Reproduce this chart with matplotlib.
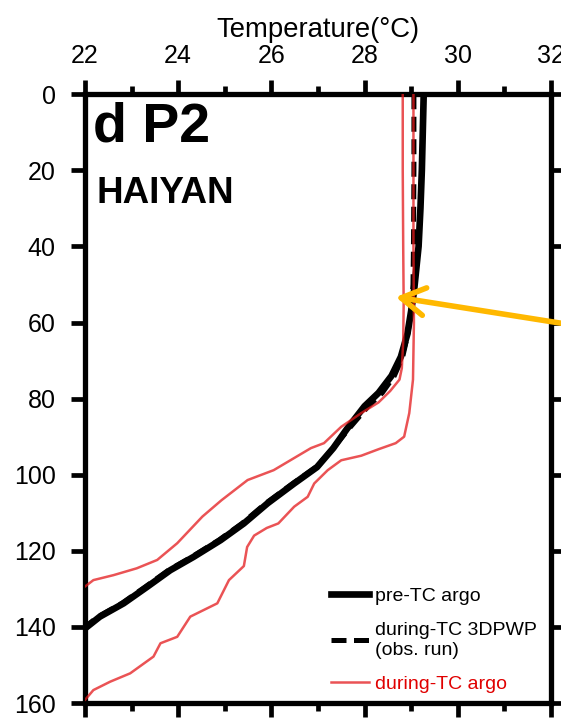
import matplotlib
matplotlib.use("Agg")
import matplotlib.pyplot as plt

plt.rcParams["font.family"] = ["Liberation Sans", "DejaVu Sans"]

# Pre-TC Argo profile (depth in m, temperature in degC)
pre_depth = [0, 10, 20, 30, 40, 46, 52, 57, 63, 69, 74, 78.5, 82, 88, 93, 98,
             102.3, 107.5, 112.8, 117.2, 121.6, 125.1, 129.5, 133.8, 137.3, 140.4, 145]
pre_temp = [29.27, 29.25, 29.23, 29.20, 29.16, 29.11, 29.06, 29.00, 28.92, 28.78, 28.58, 28.30,
            28.00, 27.62, 27.33, 26.98, 26.49, 25.92, 25.41, 24.91, 24.33, 23.83, 23.33,
            22.83, 22.32, 22.00, 21.40]

# During-TC 3DPWP simulation (observation-driven run)
pwp_depth = [0, 20, 40, 50, 57, 63, 69, 74, 78.5, 82, 88, 93, 98, 102.3, 107.5,
             112.8, 117.2, 121.6, 125.1, 129.5, 133.8, 137.3, 140.4, 145]
pwp_temp = [29.06, 29.06, 29.05, 29.04, 29.00, 28.93, 28.82, 28.64, 28.38, 28.08, 27.66,
            27.33, 26.96, 26.46, 25.88, 25.37, 24.87, 24.29, 23.79, 23.29, 22.79, 22.28,
            21.96, 21.30]

# During-TC Argo profiles
dur1_depth = [0, 20, 40, 55, 65, 72, 75, 78, 81, 83.8, 87.4, 91.7, 93, 98.8, 101.4,
              106.7, 111, 118, 122.4, 124.6, 126.4, 127.7, 129.4, 131]
dur1_temp = [28.82, 28.82, 28.83, 28.84, 28.83, 28.80, 28.75, 28.55, 28.30, 27.93, 27.50,
             27.13, 26.85, 26.05, 25.49, 24.93, 24.52, 23.98, 23.55, 23.11, 22.61, 22.18,
             22.00, 21.60]

dur2_depth = [0, 20, 40, 60, 75, 83.8, 90, 91.7, 93.3, 95, 96.2, 98.8, 102.3, 105.8,
              108.4, 112.8, 114, 116, 119, 124, 127.7, 133.8, 137.3, 142.6, 144.3, 147.8,
              152.2, 154.4, 156.6, 159.2, 161]
dur2_temp = [29.05, 29.05, 29.05, 29.06, 29.04, 28.96, 28.85, 28.67, 28.30, 27.93, 27.50,
             27.21, 26.92, 26.78, 26.49, 26.15, 25.90, 25.63, 25.48, 25.41, 25.09, 24.84,
             24.26, 23.98, 23.62, 23.47, 22.97, 22.54, 22.18, 22.00, 21.70]

x_ticks = [22, 24, 26, 28, 30, 32]
y_ticks = [0, 20, 40, 60, 80, 100, 120, 140, 160]

red = "#e41a1c"

fig = plt.figure(figsize=(5.61, 7.2), dpi=100)
ax = fig.add_axes([0.1515, 0.0236, 0.8305, 0.8455])

l_dash, = ax.plot(pwp_temp, pwp_depth, color="black", lw=3.6, dashes=(3.0, 1.5),
                  label="during-TC 3DPWP\n(obs. run)", zorder=3)
l_pre, = ax.plot(pre_temp, pre_depth, color="black", lw=4.8, label="pre-TC argo", zorder=2)
l_red, = ax.plot(dur1_temp, dur1_depth, color=red, lw=1.8, alpha=0.75,
                 label="during-TC argo", zorder=4)
ax.plot(dur2_temp, dur2_depth, color=red, lw=1.8, alpha=0.75, zorder=4)

ax.set_xlim(22, 32)
ax.set_ylim(160, 0)
ax.set_xticks(x_ticks)
ax.set_xticks(range(23, 32, 2), minor=True)
ax.set_yticks(y_ticks)

for s in ax.spines.values():
    s.set_linewidth(3.8)

ax.tick_params(axis="x", which="both", direction="out", top=True, bottom=True,
               labeltop=True, labelbottom=False, labelsize=18, width=3.4)
ax.tick_params(axis="x", which="major", length=10, pad=9)
ax.tick_params(axis="x", which="minor", length=5.5)
ax.tick_params(axis="y", which="major", direction="out", left=True, right=True,
               labelleft=True, labelright=False, labelsize=18, width=3.4,
               length=10, pad=11)

ax.set_xlabel("Temperature(°C)", fontsize=19.8, labelpad=5)
ax.xaxis.set_label_position("top")

ax.text(0.018, 0.988, "d P2", transform=ax.transAxes, fontsize=40, fontweight="bold",
        va="top", ha="left")
ax.text(0.025, 0.866, "HAIYAN", transform=ax.transAxes, fontsize=26.5, fontweight="bold",
        va="top", ha="left")

leg = ax.legend(handles=[l_pre, l_dash, l_red], loc="lower right",
                bbox_to_anchor=(0.99, 0.0), frameon=False, fontsize=14.0,
                handlelength=1.95, handletextpad=0.3, labelspacing=0.88,
                borderaxespad=0.1)
for txt, c in zip(leg.get_texts(), ["black", "black", "#e00000"]):
    txt.set_color(c)

# Pointer to the mixed-layer base
ax.annotate("", xy=(28.67, 53.3), xytext=(32.9, 61.5), xycoords="data",
            textcoords="data", annotation_clip=False,
            arrowprops=dict(arrowstyle="->, head_length=0.85, head_width=0.5",
                            color="#ffb800", lw=4.0, mutation_scale=20,
                            shrinkA=0, shrinkB=0), zorder=6)

fig.savefig("out.png", dpi=100)
